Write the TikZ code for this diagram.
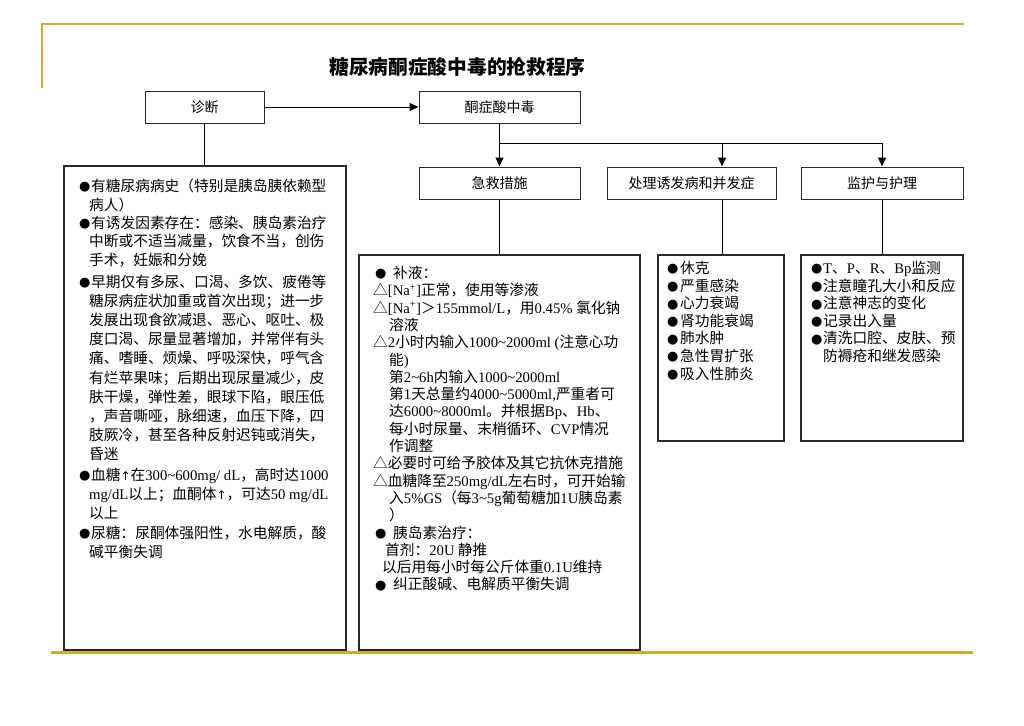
\documentclass[tikz,border=0pt]{standalone}
\usepackage{fontspec}
\setmainfont{Noto Sans CJK SC}
\newfontfamily\tmf{Liberation Serif}
\newfontfamily\symf{DejaVu Sans}
\usetikzlibrary{arrows.meta}
\definecolor{gold}{RGB}{212,170,44}
\definecolor{boxline}{RGB}{40,40,40}
\newcommand\tm[1]{{\tmf #1}}
\newcommand\bul[1][12pt]{\makebox[#1][l]{\raisebox{0.6pt}{\symf\fontsize{13}{13}\selectfont ●}}}
\newcommand\upa{{\symf\fontsize{12}{12}\selectfont ↑}}
\newcommand\tld{\textasciitilde}
\newcommand\txline[4]{\node[txt] (#1) at (#2,#3) {#4};}
\begin{document}
\begin{tikzpicture}[x=1pt,y=-1pt,
  lbl/.style={draw=boxline, line width=1pt, inner sep=0pt, font=\fontsize{14}{16}\selectfont},
  tbox/.style={draw=boxline, line width=1.1pt, inner sep=0pt},
  txt/.style={anchor=base west, inner sep=0pt, font=\fontsize{14.7}{17}\selectfont},
  conn/.style={draw=black, line width=1pt},
  arr/.style={conn, -{Triangle[length=9pt,width=8pt]}}]
\useasboundingbox (0,0) rectangle (1024,725);

% gold rules
\draw[gold, line width=2.6pt] (42,88) -- (42,24) -- (964,24);
\draw[gold, line width=3pt] (51,652) -- (973,652);

% title
\node[font=\fontsize{19.7}{22}\selectfont\bfseries] (title) at (457.5,67) {糖尿病酮症酸中毒的抢救程序};

% label boxes
\node[lbl, minimum width=119pt, minimum height=32pt] (diag) at (204.5,107) {诊断};
\node[lbl, minimum width=161pt, minimum height=32pt] (keto) at (499.5,107) {酮症酸中毒};
\node[lbl, minimum width=161pt, minimum height=32pt] (jj) at (499.5,183) {急救措施};
\node[lbl, minimum width=169pt, minimum height=32pt] (cl) at (691.5,183) {处理诱发病和并发症};
\node[lbl, minimum width=162pt, minimum height=32pt] (jh) at (882,183) {监护与护理};

% text boxes
\node[tbox, minimum width=282pt, minimum height=484pt] (lbox) at (205,408) {};
\node[tbox, minimum width=281pt, minimum height=395pt] (mbox) at (499.5,452.5) {};
\node[tbox, minimum width=126pt, minimum height=186pt] (cbox) at (721,348) {};
\node[tbox, minimum width=162pt, minimum height=186pt] (hbox) at (882,348) {};

% connectors
\draw[arr] (diag.east) -- (keto.west);
\draw[conn] (diag.south) -- (diag.south |- lbox.north);
\draw[arr] (keto.south) -- (jj.north);
\coordinate (j0) at (499.5,143);
\coordinate (c1) at (722,143);
\draw[conn] (j0) -- (c1);
\draw[arr] (c1) -- (c1 |- cl.north);
\draw[arr] (c1) -| (jh.north);
\draw[conn] (jj.south) -- (jj.south |- mbox.north);
\draw[conn] (c1 |- cl.south) -- (c1 |- cbox.north);
\draw[conn] (jh.south) -- (jh.south |- hbox.north);

% left box text
\txline{l1}{79}{191.5}{\bul 有糖尿病病史（特别是胰岛胰依赖型}
\txline{l2}{89}{210}{病人）}
\txline{l3}{79}{228}{\bul 有诱发因素存在：感染、胰岛素治疗}
\txline{l4}{89}{246.5}{中断或不适当减量，饮食不当，创伤}
\txline{l5}{89}{265}{手术，妊娠和分娩}
\txline{l6}{79}{287}{\bul 早期仅有多尿、口渴、多饮、疲倦等}
\txline{l7}{89}{306.2}{糖尿病症状加重或首次出现；进一步}
\txline{l8}{89}{325.4}{发展出现食欲减退、恶心、呕吐、极}
\txline{l9}{89}{344.6}{度口渴、尿量显著增加，并常伴有头}
\txline{l10}{89}{363.8}{痛、嗜睡、烦燥、呼吸深快，呼气含}
\txline{l11}{89}{383}{有烂苹果味；后期出现尿量减少，皮}
\txline{l12}{89}{402.2}{肤干燥，弹性差，眼球下陷，眼压低}
\txline{l13}{89}{421.4}{，声音嘶哑，脉细速，血压下降，四}
\txline{l14}{89}{440.6}{肢厥冷，甚至各种反射迟钝或消失，}
\txline{l15}{89}{459.8}{昏迷}
\txline{l16}{79}{480}{\bul 血糖\upa 在\tm{300\tld 600mg/ dL}，高时达\tm{1000}}
\txline{l17}{89}{499.5}{\tm{mg/dL}以上；血酮体\upa ，可达\tm{50 mg/dL}}
\txline{l18}{89}{518.5}{以上}
\txline{l19}{79}{538}{\bul 尿糖：尿酮体强阳性，水电解质，酸}
\txline{l20}{89}{557}{碱平衡失调}

% middle box text
\txline{m1}{375}{278.5}{\bul[18pt]补液：}
\txline{m2}{373}{295.8}{△\tm{[Na\textsuperscript{+}]}正常，使用等渗液}
\txline{m3}{373}{313.1}{△\tm{[Na\textsuperscript{+}]}＞\tm{155mmol/L}，用\tm{0.45\% }氯化钠}
\txline{m4}{389}{330.4}{溶液}
\txline{m5}{373}{347.7}{△\tm{2}小时内输入\tm{1000\tld 2000ml (}注意心功}
\txline{m6}{389}{365}{能\tm{)}}
\txline{m7}{389}{382.3}{第\tm{2\tld 6h}内输入\tm{1000\tld 2000ml}}
\txline{m8}{389}{399.6}{第\tm{1}天总量约\tm{4000\tld 5000ml,}严重者可}
\txline{m9}{389}{416.9}{达\tm{6000\tld 8000ml}。并根据\tm{Bp}、\tm{Hb}、}
\txline{m10}{389}{434.2}{每小时尿量、末梢循环、\tm{CVP}情况}
\txline{m11}{389}{451.5}{作调整}
\txline{m12}{373}{468.8}{△必要时可给予胶体及其它抗休克措施}
\txline{m13}{373}{486.1}{△血糖降至\tm{250mg/dL}左右时，可开始输}
\txline{m14}{389}{503.4}{入\tm{5\%GS}（每\tm{3\tld 5g}葡萄糖加\tm{1U}胰岛素}
\txline{m15}{389}{520.7}{）}
\txline{m16}{375}{538}{\bul[18pt]胰岛素治疗：}
\txline{m17}{385}{555.3}{首剂：\tm{20U} 静推}
\txline{m18}{382}{572.6}{以后用每小时每公斤体重\tm{0.1U}维持}
\txline{m19}{375}{589.9}{\bul[18pt]纠正酸碱、电解质平衡失调}

% complications box text
\txline{c1t}{667}{273.5}{\bul[13pt]休克}
\txline{c2t}{667}{291.1}{\bul[13pt]严重感染}
\txline{c3t}{667}{308.7}{\bul[13pt]心力衰竭}
\txline{c4t}{667}{326.3}{\bul[13pt]肾功能衰竭}
\txline{c5t}{667}{343.9}{\bul[13pt]肺水肿}
\txline{c6t}{667}{361.5}{\bul[13pt]急性胃扩张}
\txline{c7t}{667}{379.1}{\bul[13pt]吸入性肺炎}

% monitoring box text
\txline{h1}{811}{273.5}{\bul\tm{T}、\tm{P}、\tm{R}、\tm{Bp}监测}
\txline{h2}{811}{291.1}{\bul 注意瞳孔大小和反应}
\txline{h3}{811}{308.7}{\bul 注意神志的变化}
\txline{h4}{811}{326.3}{\bul 记录出入量}
\txline{h5}{811}{343.9}{\bul 清洗口腔、皮肤、预}
\txline{h6}{823}{361.5}{防褥疮和继发感染}
\end{tikzpicture}
\end{document}
